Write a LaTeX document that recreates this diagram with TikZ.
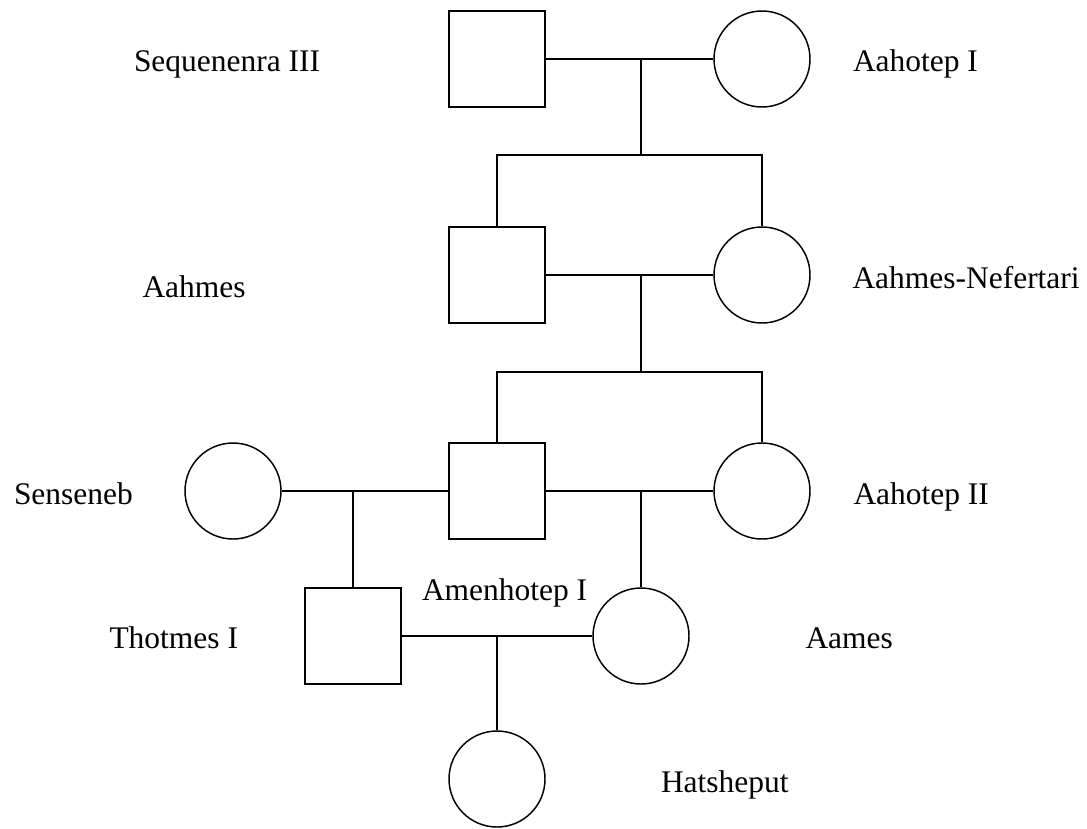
\documentclass[tikz,border=0pt]{standalone}
\usepackage{fontspec}
\setmainfont{Liberation Serif}
\begin{document}
\begin{tikzpicture}[x=0.75pt,y=-0.75pt,
  every path/.style={line width=1.5pt},
  male/.style={draw,rectangle,minimum size=72pt,inner sep=0pt,line width=1.5pt},
  female/.style={draw,circle,minimum size=72pt,inner sep=0pt,line width=1.1pt},
  lbl/.style={anchor=base west,inner sep=0pt,font=\fontsize{23.6pt}{28pt}\selectfont}]
\fill[white] (0,0) rectangle (1087,828);
\useasboundingbox (0,0) rectangle (1087,828);
% persons
\node[male] (seq) at (497,59) {};
\node[female] (aah1) at (762,59) {};
\node[male] (ahm) at (497,275) {};
\node[female] (nef) at (762,275) {};
\node[female] (sen) at (233,491) {};
\node[male] (amen) at (497,491) {};
\node[female] (aah2) at (762,491) {};
\node[male] (thot) at (353,636) {};
\node[female] (aames) at (641,636) {};
\node[female] (hat) at (497,779) {};
% labels
\node[lbl] (lseq) at (133,71.7) {Sequenenra III};
\node[lbl] (laah1) at (852,71.7) {Aahotep I};
\node[lbl] (lahm) at (141.5,297.7) {Aahmes};
\node[lbl] (lnef) at (851.5,288) {Aahmes-Nefertari};
\node[lbl] (lsen) at (13,504) {Senseneb};
\node[lbl] (laah2) at (852.5,504) {Aahotep II};
\node[lbl] (lamen) at (421,600) {Amenhotep I};
\node[lbl] (lthot) at (108.5,648) {Thotmes I};
\node[lbl] (laames) at (804.5,648) {Aames};
\node[lbl] (lhat) at (660,792.7) {Hatsheput};
% junctions
\coordinate (j1) at (641,59);
\coordinate (s1) at (641,155);
\coordinate (j2) at (641,275);
\coordinate (s2) at (641,372);
\coordinate (j3) at (353,491);
\coordinate (j4) at (641,491);
\coordinate (j5) at (497,636);
% connectors
\draw (seq) -- (aah1);
\draw (j1) -- (s1);
\draw (ahm.north) |- (s1) -| (nef.north);
\draw (ahm) -- (nef);
\draw (j2) -- (s2);
\draw (amen.north) |- (s2) -| (aah2.north);
\draw (sen) -- (amen);
\draw (amen) -- (aah2);
\draw (j3) -- (thot.north);
\draw (j4) -- (aames.north);
\draw (thot) -- (aames);
\draw (j5) -- (hat.north);
\end{tikzpicture}
\end{document}
